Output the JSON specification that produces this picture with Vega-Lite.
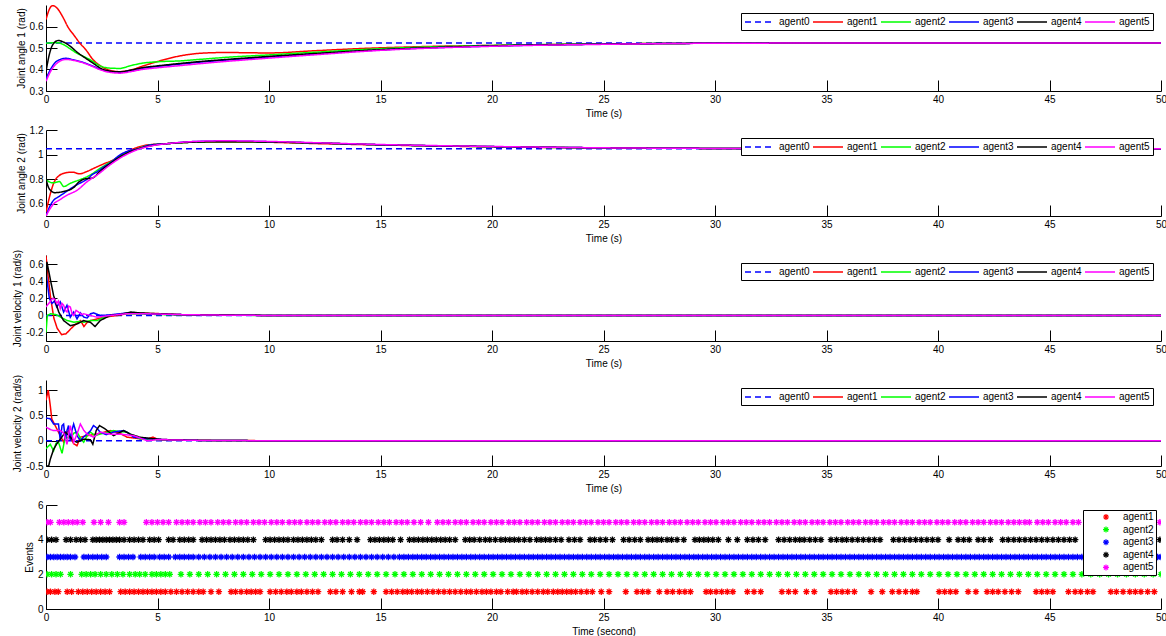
{
"$schema":"https://vega.github.io/schema/vega-lite/v6.json",
"background":"white",
"padding":{"left":12,"top":5,"right":2,"bottom":2},
"bounds":"flush",
"spacing":39,
"config":{
 "font":"Liberation Sans",
 "view":{"stroke":null},
 "axis":{"labelFont":"Liberation Sans","titleFont":"Liberation Sans","labelFontSize":10,"titleFontSize":10,"titleFontWeight":"normal","labelColor":"#000","titleColor":"#000","domainColor":"#000","tickColor":"#000","tickSize":-11,"labelPadding":14,"grid":false,"labelFlush":false,"labelOverlap":false,"domainWidth":1,"tickWidth":1},
 "axisX":{"titlePadding":4},
 "axisY":{"titlePadding":3}
},
"resolve":{"scale":{"color":"independent","strokeDash":"independent"},"legend":{"color":"independent","strokeDash":"independent"}},
"datasets":{
"a1":[
{"g":0,"t":0,"y":0.5236},{"g":0,"t":50,"y":0.5236},
{"g":1,"t":0,"y":0.632},{"g":1,"t":0.15,"y":0.68},{"g":1,"t":0.3,"y":0.697},{"g":1,"t":0.5,"y":0.685},{"g":1,"t":0.75,"y":0.645},{"g":1,"t":1.0,"y":0.595},{"g":1,"t":1.25,"y":0.56},{"g":1,"t":1.5,"y":0.525},{"g":1,"t":1.8,"y":0.49},{"g":1,"t":2.1,"y":0.447},{"g":1,"t":2.5,"y":0.413},{"g":1,"t":2.9,"y":0.395},{"g":1,"t":3.3,"y":0.39},{"g":1,"t":3.8,"y":0.398},{"g":1,"t":4.4,"y":0.418},{"g":1,"t":5.0,"y":0.437},{"g":1,"t":6.0,"y":0.463},{"g":1,"t":7.0,"y":0.476},{"g":1,"t":8.0,"y":0.479},{"g":1,"t":10,"y":0.477},{"g":1,"t":12,"y":0.487},{"g":1,"t":14,"y":0.497},{"g":1,"t":16,"y":0.504},{"g":1,"t":18,"y":0.509},{"g":1,"t":20,"y":0.512},{"g":1,"t":25,"y":0.519},{"g":1,"t":30,"y":0.522},{"g":1,"t":40,"y":0.5236},{"g":1,"t":50,"y":0.5236},
{"g":2,"t":0,"y":0.522},{"g":2,"t":0.5,"y":0.525},{"g":2,"t":0.8,"y":0.515},{"g":2,"t":1.1,"y":0.495},{"g":2,"t":1.4,"y":0.475},{"g":2,"t":1.7,"y":0.46},{"g":2,"t":2.0,"y":0.444},{"g":2,"t":2.4,"y":0.418},{"g":2,"t":2.8,"y":0.407},{"g":2,"t":3.3,"y":0.405},{"g":2,"t":3.8,"y":0.418},{"g":2,"t":4.3,"y":0.429},{"g":2,"t":5.0,"y":0.436},{"g":2,"t":6.0,"y":0.44},{"g":2,"t":7.0,"y":0.448},{"g":2,"t":8.0,"y":0.456},{"g":2,"t":10,"y":0.468},{"g":2,"t":12,"y":0.48},{"g":2,"t":15,"y":0.497},{"g":2,"t":20,"y":0.512},{"g":2,"t":25,"y":0.519},{"g":2,"t":30,"y":0.522},{"g":2,"t":40,"y":0.5236},{"g":2,"t":50,"y":0.5236},
{"g":3,"t":0,"y":0.356},{"g":3,"t":0.2,"y":0.4},{"g":3,"t":0.5,"y":0.44},{"g":3,"t":0.9,"y":0.452},{"g":3,"t":1.2,"y":0.446},{"g":3,"t":1.6,"y":0.435},{"g":3,"t":2.0,"y":0.42},{"g":3,"t":2.4,"y":0.403},{"g":3,"t":2.8,"y":0.392},{"g":3,"t":3.3,"y":0.388},{"g":3,"t":3.8,"y":0.395},{"g":3,"t":4.3,"y":0.405},{"g":3,"t":5.0,"y":0.414},{"g":3,"t":6.0,"y":0.425},{"g":3,"t":7.0,"y":0.435},{"g":3,"t":8.0,"y":0.443},{"g":3,"t":10,"y":0.458},{"g":3,"t":12,"y":0.472},{"g":3,"t":15,"y":0.491},{"g":3,"t":20,"y":0.509},{"g":3,"t":25,"y":0.518},{"g":3,"t":30,"y":0.522},{"g":3,"t":40,"y":0.5236},{"g":3,"t":50,"y":0.5236},
{"g":4,"t":0,"y":0.39},{"g":4,"t":0.15,"y":0.47},{"g":4,"t":0.3,"y":0.515},{"g":4,"t":0.55,"y":0.535},{"g":4,"t":0.8,"y":0.527},{"g":4,"t":1.1,"y":0.507},{"g":4,"t":1.4,"y":0.48},{"g":4,"t":1.7,"y":0.458},{"g":4,"t":2.1,"y":0.43},{"g":4,"t":2.5,"y":0.403},{"g":4,"t":2.9,"y":0.392},{"g":4,"t":3.3,"y":0.389},{"g":4,"t":3.8,"y":0.397},{"g":4,"t":4.3,"y":0.408},{"g":4,"t":5.0,"y":0.417},{"g":4,"t":6.0,"y":0.428},{"g":4,"t":7.0,"y":0.438},{"g":4,"t":8.0,"y":0.446},{"g":4,"t":10,"y":0.461},{"g":4,"t":12,"y":0.474},{"g":4,"t":15,"y":0.492},{"g":4,"t":20,"y":0.51},{"g":4,"t":25,"y":0.518},{"g":4,"t":30,"y":0.522},{"g":4,"t":40,"y":0.5236},{"g":4,"t":50,"y":0.5236},
{"g":5,"t":0,"y":0.345},{"g":5,"t":0.2,"y":0.39},{"g":5,"t":0.5,"y":0.43},{"g":5,"t":0.9,"y":0.447},{"g":5,"t":1.2,"y":0.443},{"g":5,"t":1.6,"y":0.433},{"g":5,"t":2.0,"y":0.418},{"g":5,"t":2.4,"y":0.4},{"g":5,"t":2.8,"y":0.388},{"g":5,"t":3.3,"y":0.383},{"g":5,"t":3.8,"y":0.39},{"g":5,"t":4.3,"y":0.4},{"g":5,"t":5.0,"y":0.408},{"g":5,"t":6.0,"y":0.418},{"g":5,"t":7.0,"y":0.428},{"g":5,"t":8.0,"y":0.437},{"g":5,"t":10,"y":0.453},{"g":5,"t":12,"y":0.468},{"g":5,"t":15,"y":0.489},{"g":5,"t":20,"y":0.508},{"g":5,"t":25,"y":0.517},{"g":5,"t":30,"y":0.522},{"g":5,"t":40,"y":0.5236},{"g":5,"t":50,"y":0.5236}
],
"a2":[
{"g":0,"t":0,"y":1.0472},{"g":0,"t":50,"y":1.0472},
{"g":1,"t":0,"y":0.53},{"g":1,"t":0.15,"y":0.65},{"g":1,"t":0.35,"y":0.77},{"g":1,"t":0.6,"y":0.83},{"g":1,"t":0.9,"y":0.852},{"g":1,"t":1.2,"y":0.857},{"g":1,"t":1.5,"y":0.843},{"g":1,"t":1.8,"y":0.86},{"g":1,"t":2.2,"y":0.893},{"g":1,"t":2.6,"y":0.925},{"g":1,"t":3.0,"y":0.955},{"g":1,"t":3.4,"y":1.0},{"g":1,"t":3.9,"y":1.045},{"g":1,"t":4.5,"y":1.077},{"g":1,"t":5.5,"y":1.09},{"g":1,"t":6.5,"y":1.1},{"g":1,"t":8,"y":1.103},{"g":1,"t":10,"y":1.1},{"g":1,"t":12,"y":1.09},{"g":1,"t":15,"y":1.078},{"g":1,"t":20,"y":1.063},{"g":1,"t":25,"y":1.054},{"g":1,"t":30,"y":1.05},{"g":1,"t":40,"y":1.047},{"g":1,"t":50,"y":1.047},
{"g":2,"t":0,"y":0.794},{"g":2,"t":0.3,"y":0.77},{"g":2,"t":0.6,"y":0.78},{"g":2,"t":0.8,"y":0.74},{"g":2,"t":1.1,"y":0.767},{"g":2,"t":1.5,"y":0.794},{"g":2,"t":2.0,"y":0.835},{"g":2,"t":2.4,"y":0.885},{"g":2,"t":2.9,"y":0.94},{"g":2,"t":3.4,"y":0.995},{"g":2,"t":4.0,"y":1.04},{"g":2,"t":4.6,"y":1.075},{"g":2,"t":5.5,"y":1.09},{"g":2,"t":6.5,"y":1.1},{"g":2,"t":8,"y":1.105},{"g":2,"t":10,"y":1.102},{"g":2,"t":12,"y":1.095},{"g":2,"t":15,"y":1.08},{"g":2,"t":20,"y":1.064},{"g":2,"t":25,"y":1.054},{"g":2,"t":30,"y":1.05},{"g":2,"t":40,"y":1.047},{"g":2,"t":50,"y":1.047},
{"g":3,"t":0,"y":0.5},{"g":3,"t":0.15,"y":0.57},{"g":3,"t":0.35,"y":0.63},{"g":3,"t":0.55,"y":0.655},{"g":3,"t":0.8,"y":0.685},{"g":3,"t":1.0,"y":0.71},{"g":3,"t":1.25,"y":0.74},{"g":3,"t":1.5,"y":0.765},{"g":3,"t":1.85,"y":0.8},{"g":3,"t":2.1,"y":0.84},{"g":3,"t":2.3,"y":0.86},{"g":3,"t":2.6,"y":0.9},{"g":3,"t":2.9,"y":0.935},{"g":3,"t":3.3,"y":0.995},{"g":3,"t":3.7,"y":1.03},{"g":3,"t":4.1,"y":1.045},{"g":3,"t":4.6,"y":1.075},{"g":3,"t":5.5,"y":1.09},{"g":3,"t":6.5,"y":1.105},{"g":3,"t":8,"y":1.11},{"g":3,"t":10,"y":1.105},{"g":3,"t":12,"y":1.095},{"g":3,"t":15,"y":1.08},{"g":3,"t":20,"y":1.065},{"g":3,"t":25,"y":1.055},{"g":3,"t":30,"y":1.05},{"g":3,"t":40,"y":1.047},{"g":3,"t":50,"y":1.047},
{"g":4,"t":0,"y":0.8},{"g":4,"t":0.15,"y":0.72},{"g":4,"t":0.4,"y":0.69},{"g":4,"t":0.8,"y":0.7},{"g":4,"t":1.2,"y":0.726},{"g":4,"t":1.5,"y":0.78},{"g":4,"t":1.7,"y":0.8},{"g":4,"t":2.1,"y":0.81},{"g":4,"t":2.4,"y":0.86},{"g":4,"t":2.9,"y":0.93},{"g":4,"t":3.5,"y":1.0},{"g":4,"t":4.2,"y":1.05},{"g":4,"t":4.8,"y":1.075},{"g":4,"t":5.5,"y":1.09},{"g":4,"t":6.5,"y":1.1},{"g":4,"t":8,"y":1.105},{"g":4,"t":10,"y":1.102},{"g":4,"t":12,"y":1.095},{"g":4,"t":15,"y":1.08},{"g":4,"t":20,"y":1.065},{"g":4,"t":25,"y":1.055},{"g":4,"t":30,"y":1.05},{"g":4,"t":40,"y":1.047},{"g":4,"t":50,"y":1.047},
{"g":5,"t":0,"y":0.5},{"g":5,"t":0.15,"y":0.55},{"g":5,"t":0.35,"y":0.6},{"g":5,"t":0.6,"y":0.63},{"g":5,"t":0.95,"y":0.67},{"g":5,"t":1.4,"y":0.71},{"g":5,"t":1.85,"y":0.78},{"g":5,"t":2.3,"y":0.835},{"g":5,"t":2.9,"y":0.92},{"g":5,"t":3.5,"y":0.99},{"g":5,"t":4.1,"y":1.04},{"g":5,"t":4.7,"y":1.07},{"g":5,"t":5.5,"y":1.09},{"g":5,"t":6.5,"y":1.105},{"g":5,"t":8,"y":1.112},{"g":5,"t":10,"y":1.107},{"g":5,"t":12,"y":1.097},{"g":5,"t":15,"y":1.082},{"g":5,"t":20,"y":1.066},{"g":5,"t":25,"y":1.055},{"g":5,"t":30,"y":1.05},{"g":5,"t":40,"y":1.047},{"g":5,"t":50,"y":1.047}
],
"a3":[
{"g":0,"t":0,"y":0},{"g":0,"t":50,"y":0},
{"g":1,"t":0,"y":0.7},{"g":1,"t":0.1,"y":0.45},{"g":1,"t":0.2,"y":0.22},{"g":1,"t":0.35,"y":-0.03},{"g":1,"t":0.5,"y":-0.15},{"g":1,"t":0.7,"y":-0.225},{"g":1,"t":0.9,"y":-0.215},{"g":1,"t":1.1,"y":-0.16},{"g":1,"t":1.3,"y":-0.11},{"g":1,"t":1.55,"y":-0.06},{"g":1,"t":1.7,"y":-0.13},{"g":1,"t":1.85,"y":-0.08},{"g":1,"t":2.0,"y":-0.06},{"g":1,"t":2.3,"y":-0.04},{"g":1,"t":2.6,"y":-0.02},{"g":1,"t":3.2,"y":0},{"g":1,"t":3.8,"y":0.03},{"g":1,"t":4.5,"y":0.025},{"g":1,"t":5.3,"y":0.02},{"g":1,"t":6.0,"y":0.01},{"g":1,"t":7,"y":0.005},{"g":1,"t":10,"y":0},{"g":1,"t":50,"y":0},
{"g":2,"t":0,"y":-0.2},{"g":2,"t":0.06,"y":0},{"g":2,"t":0.2,"y":0.02},{"g":2,"t":0.45,"y":0.01},{"g":2,"t":0.65,"y":-0.02},{"g":2,"t":0.95,"y":-0.06},{"g":2,"t":1.25,"y":-0.08},{"g":2,"t":1.5,"y":-0.07},{"g":2,"t":1.7,"y":-0.08},{"g":2,"t":2.0,"y":-0.06},{"g":2,"t":2.3,"y":-0.06},{"g":2,"t":2.6,"y":-0.02},{"g":2,"t":2.9,"y":0},{"g":2,"t":3.5,"y":0.02},{"g":2,"t":4.5,"y":0.015},{"g":2,"t":6,"y":0.005},{"g":2,"t":10,"y":0},{"g":2,"t":50,"y":0},
{"g":3,"t":0,"y":0.51},{"g":3,"t":0.1,"y":0.3},{"g":3,"t":0.15,"y":0.2},{"g":3,"t":0.27,"y":0.14},{"g":3,"t":0.38,"y":0.17},{"g":3,"t":0.48,"y":0.1},{"g":3,"t":0.64,"y":0.16},{"g":3,"t":0.79,"y":0.04},{"g":3,"t":0.94,"y":0.12},{"g":3,"t":1.09,"y":-0.02},{"g":3,"t":1.24,"y":0.04},{"g":3,"t":1.39,"y":-0.04},{"g":3,"t":1.54,"y":0.03},{"g":3,"t":1.7,"y":-0.02},{"g":3,"t":1.84,"y":-0.03},{"g":3,"t":2.0,"y":0.02},{"g":3,"t":2.13,"y":0.03},{"g":3,"t":2.43,"y":0},{"g":3,"t":2.8,"y":0.005},{"g":3,"t":3.3,"y":0.02},{"g":3,"t":3.7,"y":0.03},{"g":3,"t":5,"y":0.015},{"g":3,"t":7,"y":0.005},{"g":3,"t":10,"y":0},{"g":3,"t":50,"y":0},
{"g":4,"t":0,"y":0.3},{"g":4,"t":0.04,"y":0.63},{"g":4,"t":0.19,"y":0.43},{"g":4,"t":0.34,"y":0.235},{"g":4,"t":0.57,"y":0.04},{"g":4,"t":0.79,"y":-0.06},{"g":4,"t":1.09,"y":-0.12},{"g":4,"t":1.39,"y":-0.1},{"g":4,"t":1.69,"y":-0.06},{"g":4,"t":1.99,"y":-0.08},{"g":4,"t":2.2,"y":-0.13},{"g":4,"t":2.43,"y":-0.06},{"g":4,"t":2.88,"y":0},{"g":4,"t":3.3,"y":0.01},{"g":4,"t":3.8,"y":0.04},{"g":4,"t":4.2,"y":0.03},{"g":4,"t":5,"y":0.02},{"g":4,"t":6,"y":0.01},{"g":4,"t":8,"y":0.005},{"g":4,"t":10,"y":0},{"g":4,"t":50,"y":0},
{"g":5,"t":0,"y":0.1},{"g":5,"t":0.15,"y":0.15},{"g":5,"t":0.3,"y":0.2},{"g":5,"t":0.4,"y":0.19},{"g":5,"t":0.48,"y":0.14},{"g":5,"t":0.56,"y":0.17},{"g":5,"t":0.64,"y":0.08},{"g":5,"t":0.72,"y":0.14},{"g":5,"t":0.79,"y":0.12},{"g":5,"t":0.87,"y":0.06},{"g":5,"t":0.94,"y":0.04},{"g":5,"t":1.02,"y":0.11},{"g":5,"t":1.09,"y":0.1},{"g":5,"t":1.17,"y":0.02},{"g":5,"t":1.24,"y":0},{"g":5,"t":1.35,"y":0.06},{"g":5,"t":1.46,"y":0.04},{"g":5,"t":1.6,"y":0.01},{"g":5,"t":1.69,"y":0.02},{"g":5,"t":1.99,"y":0},{"g":5,"t":2.28,"y":-0.02},{"g":5,"t":2.6,"y":-0.01},{"g":5,"t":2.9,"y":0},{"g":5,"t":3.6,"y":0.02},{"g":5,"t":4.5,"y":0.02},{"g":5,"t":6,"y":0.01},{"g":5,"t":8,"y":0.003},{"g":5,"t":10,"y":0},{"g":5,"t":50,"y":0}
],
"a4":[
{"g":0,"t":0,"y":0},{"g":0,"t":50,"y":0},
{"g":1,"t":0,"y":0.8},{"g":1,"t":0.1,"y":1.0},{"g":1,"t":0.19,"y":0.7},{"g":1,"t":0.26,"y":0.43},{"g":1,"t":0.41,"y":0.3},{"g":1,"t":0.64,"y":0.1},{"g":1,"t":0.79,"y":-0.03},{"g":1,"t":0.9,"y":0.15},{"g":1,"t":1.01,"y":0.2},{"g":1,"t":1.12,"y":0.05},{"g":1,"t":1.24,"y":-0.06},{"g":1,"t":1.39,"y":-0.1},{"g":1,"t":1.54,"y":0.07},{"g":1,"t":1.84,"y":0.1},{"g":1,"t":2.28,"y":0.13},{"g":1,"t":2.88,"y":0.2},{"g":1,"t":3.3,"y":0.15},{"g":1,"t":3.63,"y":0.07},{"g":1,"t":4.2,"y":0.04},{"g":1,"t":4.5,"y":0.03},{"g":1,"t":4.8,"y":0.07},{"g":1,"t":5.0,"y":0.03},{"g":1,"t":6,"y":0.01},{"g":1,"t":10,"y":0},{"g":1,"t":50,"y":0},
{"g":2,"t":0,"y":-0.16},{"g":2,"t":0.19,"y":-0.07},{"g":2,"t":0.34,"y":-0.2},{"g":2,"t":0.45,"y":-0.05},{"g":2,"t":0.56,"y":-0.03},{"g":2,"t":0.72,"y":-0.25},{"g":2,"t":0.83,"y":0},{"g":2,"t":0.94,"y":0.07},{"g":2,"t":1.1,"y":0.05},{"g":2,"t":1.25,"y":0.15},{"g":2,"t":1.39,"y":0.17},{"g":2,"t":1.55,"y":0.05},{"g":2,"t":1.69,"y":-0.03},{"g":2,"t":1.85,"y":0.1},{"g":2,"t":1.99,"y":0.17},{"g":2,"t":2.2,"y":0.1},{"g":2,"t":2.43,"y":0.13},{"g":2,"t":2.7,"y":0.16},{"g":2,"t":3.03,"y":0.2},{"g":2,"t":3.3,"y":0.18},{"g":2,"t":3.63,"y":0.17},{"g":2,"t":3.9,"y":0.1},{"g":2,"t":4.23,"y":0.03},{"g":2,"t":5,"y":0.02},{"g":2,"t":7,"y":0.005},{"g":2,"t":10,"y":0},{"g":2,"t":50,"y":0},
{"g":3,"t":0,"y":0.45},{"g":3,"t":0.2,"y":0.43},{"g":3,"t":0.34,"y":0.33},{"g":3,"t":0.56,"y":0.33},{"g":3,"t":0.64,"y":0},{"g":3,"t":0.72,"y":0.3},{"g":3,"t":0.79,"y":0.33},{"g":3,"t":0.87,"y":0},{"g":3,"t":0.94,"y":0.2},{"g":3,"t":1.01,"y":0.3},{"g":3,"t":1.09,"y":0},{"g":3,"t":1.16,"y":0.2},{"g":3,"t":1.24,"y":0.33},{"g":3,"t":1.39,"y":0.1},{"g":3,"t":1.54,"y":0},{"g":3,"t":1.7,"y":0.08},{"g":3,"t":1.84,"y":0.13},{"g":3,"t":2.0,"y":0.2},{"g":3,"t":2.13,"y":0.3},{"g":3,"t":2.28,"y":0.25},{"g":3,"t":2.43,"y":0.17},{"g":3,"t":2.7,"y":0.12},{"g":3,"t":3.03,"y":0.17},{"g":3,"t":3.3,"y":0.19},{"g":3,"t":3.48,"y":0.2},{"g":3,"t":3.7,"y":0.15},{"g":3,"t":3.93,"y":0.07},{"g":3,"t":4.5,"y":0.04},{"g":3,"t":5.5,"y":0.02},{"g":3,"t":7,"y":0.005},{"g":3,"t":10,"y":0},{"g":3,"t":50,"y":0},
{"g":4,"t":0,"y":-0.5},{"g":4,"t":0.12,"y":-0.5},{"g":4,"t":0.19,"y":-0.37},{"g":4,"t":0.34,"y":-0.17},{"g":4,"t":0.5,"y":-0.05},{"g":4,"t":0.64,"y":0.03},{"g":4,"t":0.87,"y":0.17},{"g":4,"t":1.09,"y":0.07},{"g":4,"t":1.24,"y":0},{"g":4,"t":1.39,"y":-0.03},{"g":4,"t":1.69,"y":0.03},{"g":4,"t":1.99,"y":0.02},{"g":4,"t":2.1,"y":-0.07},{"g":4,"t":2.25,"y":0.2},{"g":4,"t":2.4,"y":0.3},{"g":4,"t":2.66,"y":0.23},{"g":4,"t":3.03,"y":0.1},{"g":4,"t":3.48,"y":0.2},{"g":4,"t":3.78,"y":0.13},{"g":4,"t":4.2,"y":0.07},{"g":4,"t":5.2,"y":0.02},{"g":4,"t":7,"y":0.005},{"g":4,"t":10,"y":0},{"g":4,"t":50,"y":0},
{"g":5,"t":0,"y":0.27},{"g":5,"t":0.2,"y":0.22},{"g":5,"t":0.34,"y":0.2},{"g":5,"t":0.64,"y":0.2},{"g":5,"t":0.8,"y":0.15},{"g":5,"t":0.94,"y":-0.07},{"g":5,"t":1.09,"y":0.3},{"g":5,"t":1.24,"y":-0.03},{"g":5,"t":1.39,"y":0.13},{"g":5,"t":1.54,"y":0.33},{"g":5,"t":1.7,"y":0.2},{"g":5,"t":1.84,"y":0.13},{"g":5,"t":2.13,"y":0.07},{"g":5,"t":2.43,"y":0.17},{"g":5,"t":2.88,"y":0.13},{"g":5,"t":3.33,"y":0.13},{"g":5,"t":3.93,"y":0.1},{"g":5,"t":4.53,"y":0},{"g":5,"t":5,"y":0.02},{"g":5,"t":7,"y":0.005},{"g":5,"t":10,"y":0},{"g":5,"t":50,"y":0}
],
"ev":[
{"e":1,"t":0.05},{"e":1,"t":0.2},{"e":1,"t":0.4},{"e":1,"t":0.55},{"e":1,"t":0.95},{"e":1,"t":1.15},{"e":1,"t":1.45},{"e":1,"t":1.65},{"e":1,"t":1.85},{"e":1,"t":2.05},{"e":1,"t":2.25},{"e":1,"t":2.45},{"e":1,"t":2.65},{"e":1,"t":2.85},{"e":1,"t":3.35},{"e":1,"t":3.55},{"e":1,"t":3.75},{"e":1,"t":3.95},{"e":1,"t":4.15},{"e":1,"t":4.35},{"e":1,"t":4.55},{"e":1,"t":4.75},{"e":1,"t":4.95},{"e":1,"t":5.15},{"e":1,"t":5.35},{"e":1,"t":5.6},{"e":1,"t":5.85},{"e":1,"t":6.1},{"e":1,"t":6.35},{"e":1,"t":6.6},{"e":1,"t":6.85},{"e":1,"t":7.05},{"e":1,"t":7.4},{"e":1,"t":7.75},{"e":1,"t":8.3},{"e":1,"t":8.5},{"e":1,"t":8.75},{"e":1,"t":9.0},{"e":1,"t":9.2},{"e":1,"t":9.4},{"e":1,"t":9.6},{"e":1,"t":10.05},{"e":1,"t":10.3},{"e":1,"t":10.55},{"e":1,"t":10.8},{"e":1,"t":11.0},{"e":1,"t":11.25},{"e":1,"t":11.45},{"e":1,"t":11.7},{"e":1,"t":11.95},{"e":1,"t":12.2},{"e":1,"t":12.75},{"e":1,"t":13.0},{"e":1,"t":13.3},{"e":1,"t":13.7},{"e":1,"t":14.05},{"e":1,"t":14.2},{"e":1,"t":14.7},{"e":1,"t":15.25},{"e":1,"t":15.5},{"e":1,"t":15.75},{"e":1,"t":16.0},{"e":1,"t":16.2},{"e":1,"t":16.4},{"e":1,"t":16.65},{"e":1,"t":16.85},{"e":1,"t":17.1},{"e":1,"t":17.35},{"e":1,"t":17.6},{"e":1,"t":17.85},{"e":1,"t":18.1},{"e":1,"t":18.35},{"e":1,"t":18.6},{"e":1,"t":18.85},{"e":1,"t":19.05},{"e":1,"t":19.3},{"e":1,"t":19.55},{"e":1,"t":19.75},{"e":1,"t":19.95},{"e":1,"t":20.2},{"e":1,"t":20.4},{"e":1,"t":20.7},{"e":1,"t":20.95},{"e":1,"t":21.1},{"e":1,"t":21.35},{"e":1,"t":21.55},{"e":1,"t":21.8},{"e":1,"t":22.05},{"e":1,"t":22.3},{"e":1,"t":22.5},{"e":1,"t":22.75},{"e":1,"t":22.95},{"e":1,"t":23.15},{"e":1,"t":23.35},{"e":1,"t":23.55},{"e":1,"t":23.75},{"e":1,"t":24.0},{"e":1,"t":24.25},{"e":1,"t":24.5},{"e":1,"t":24.9},{"e":1,"t":25.25},{"e":1,"t":26.0},{"e":1,"t":26.5},{"e":1,"t":26.75},{"e":1,"t":27.0},{"e":1,"t":27.5},{"e":1,"t":27.85},{"e":1,"t":28.1},{"e":1,"t":28.4},{"e":1,"t":28.65},{"e":1,"t":28.9},{"e":1,"t":29.6},{"e":1,"t":29.8},{"e":1,"t":30.05},{"e":1,"t":30.3},{"e":1,"t":30.55},{"e":1,"t":30.8},{"e":1,"t":31.45},{"e":1,"t":31.75},{"e":1,"t":32.05},{"e":1,"t":33.0},{"e":1,"t":33.3},{"e":1,"t":33.6},{"e":1,"t":34.1},{"e":1,"t":34.45},{"e":1,"t":35.2},{"e":1,"t":35.45},{"e":1,"t":35.7},{"e":1,"t":35.95},{"e":1,"t":36.25},{"e":1,"t":37.0},{"e":1,"t":37.5},{"e":1,"t":37.95},{"e":1,"t":38.25},{"e":1,"t":38.55},{"e":1,"t":38.85},{"e":1,"t":39.05},{"e":1,"t":40.05},{"e":1,"t":40.3},{"e":1,"t":40.55},{"e":1,"t":40.8},{"e":1,"t":41.35},{"e":1,"t":41.7},{"e":1,"t":42.2},{"e":1,"t":42.45},{"e":1,"t":42.7},{"e":1,"t":43.0},{"e":1,"t":43.3},{"e":1,"t":43.6},{"e":1,"t":44.4},{"e":1,"t":44.65},{"e":1,"t":44.9},{"e":1,"t":45.15},{"e":1,"t":45.85},{"e":1,"t":46.15},{"e":1,"t":46.4},{"e":1,"t":46.7},{"e":1,"t":46.95},{"e":1,"t":47.75},{"e":1,"t":48.0},{"e":1,"t":48.3},{"e":1,"t":48.6},{"e":1,"t":48.85},{"e":1,"t":49.1},{"e":1,"t":49.4},{"e":1,"t":49.7},
{"e":2,"t":0.05},{"e":2,"t":0.25},{"e":2,"t":0.45},{"e":2,"t":0.65},{"e":2,"t":1.1},{"e":2,"t":1.6},{"e":2,"t":1.8},{"e":2,"t":2.0},{"e":2,"t":2.2},{"e":2,"t":2.45},{"e":2,"t":2.7},{"e":2,"t":2.95},{"e":2,"t":3.2},{"e":2,"t":3.45},{"e":2,"t":3.75},{"e":2,"t":4.0},{"e":2,"t":4.2},{"e":2,"t":4.45},{"e":2,"t":4.75},{"e":2,"t":4.95},{"e":2,"t":5.15},{"e":2,"t":5.35},{"e":2,"t":5.55},{"e":2,"t":6.05},{"e":2,"t":6.45},{"e":2,"t":6.85},{"e":2,"t":7.25},{"e":2,"t":7.65},{"e":2,"t":8.05},{"e":2,"t":8.45},{"e":2,"t":8.85},{"e":2,"t":9.25},{"e":2,"t":9.65},{"e":2,"t":10.05},{"e":2,"t":10.45},{"e":2,"t":10.85},{"e":2,"t":11.25},{"e":2,"t":11.65},{"e":2,"t":12.05},{"e":2,"t":12.45},{"e":2,"t":12.85},{"e":2,"t":13.25},{"e":2,"t":13.65},{"e":2,"t":14.05},{"e":2,"t":14.45},{"e":2,"t":14.85},{"e":2,"t":15.25},{"e":2,"t":15.65},{"e":2,"t":16.05},{"e":2,"t":16.45},{"e":2,"t":16.85},{"e":2,"t":17.25},{"e":2,"t":17.65},{"e":2,"t":18.05},{"e":2,"t":18.45},{"e":2,"t":18.85},{"e":2,"t":19.25},{"e":2,"t":19.65},{"e":2,"t":20.05},{"e":2,"t":20.45},{"e":2,"t":20.85},{"e":2,"t":21.25},{"e":2,"t":21.65},{"e":2,"t":22.05},{"e":2,"t":22.45},{"e":2,"t":22.85},{"e":2,"t":23.25},{"e":2,"t":23.65},{"e":2,"t":24.05},{"e":2,"t":24.45},{"e":2,"t":24.85},{"e":2,"t":25.25},{"e":2,"t":25.65},{"e":2,"t":26.05},{"e":2,"t":26.45},{"e":2,"t":26.85},{"e":2,"t":27.25},{"e":2,"t":27.65},{"e":2,"t":28.05},{"e":2,"t":28.45},{"e":2,"t":28.85},{"e":2,"t":29.25},{"e":2,"t":29.65},{"e":2,"t":30.05},{"e":2,"t":30.45},{"e":2,"t":30.85},{"e":2,"t":31.25},{"e":2,"t":31.65},{"e":2,"t":32.05},{"e":2,"t":32.45},{"e":2,"t":32.85},{"e":2,"t":33.25},{"e":2,"t":33.65},{"e":2,"t":34.05},{"e":2,"t":34.45},{"e":2,"t":34.85},{"e":2,"t":35.25},{"e":2,"t":35.65},{"e":2,"t":36.05},{"e":2,"t":36.45},{"e":2,"t":36.85},{"e":2,"t":37.25},{"e":2,"t":37.65},{"e":2,"t":38.05},{"e":2,"t":38.45},{"e":2,"t":38.85},{"e":2,"t":39.25},{"e":2,"t":39.65},{"e":2,"t":40.05},{"e":2,"t":40.45},{"e":2,"t":40.85},{"e":2,"t":41.25},{"e":2,"t":41.65},{"e":2,"t":42.05},{"e":2,"t":42.45},{"e":2,"t":42.85},{"e":2,"t":43.25},{"e":2,"t":43.65},{"e":2,"t":44.05},{"e":2,"t":44.45},{"e":2,"t":44.85},{"e":2,"t":45.25},{"e":2,"t":45.65},{"e":2,"t":46.05},{"e":2,"t":46.45},{"e":2,"t":46.85},{"e":2,"t":47.25},{"e":2,"t":47.65},{"e":2,"t":48.05},{"e":2,"t":48.45},{"e":2,"t":48.85},{"e":2,"t":49.25},{"e":2,"t":49.65},{"e":2,"t":50.0},
{"e":3,"t":0.05},{"e":3,"t":0.2},{"e":3,"t":0.35},{"e":3,"t":0.5},{"e":3,"t":0.65},{"e":3,"t":0.8},{"e":3,"t":0.95},{"e":3,"t":1.1},{"e":3,"t":1.3},{"e":3,"t":1.7},{"e":3,"t":1.9},{"e":3,"t":2.1},{"e":3,"t":2.3},{"e":3,"t":2.5},{"e":3,"t":2.7},{"e":3,"t":3.3},{"e":3,"t":3.5},{"e":3,"t":3.7},{"e":3,"t":3.9},{"e":3,"t":4.25},{"e":3,"t":4.45},{"e":3,"t":4.65},{"e":3,"t":4.85},{"e":3,"t":5.1},{"e":3,"t":5.3},{"e":3,"t":5.5},{"e":3,"t":5.8},{"e":3,"t":6.0},{"e":3,"t":6.2},{"e":3,"t":6.4},{"e":3,"t":6.6},{"e":3,"t":6.85},{"e":3,"t":7.1},{"e":3,"t":7.35},{"e":3,"t":7.6},{"e":3,"t":7.85},{"e":3,"t":8.1},{"e":3,"t":8.35},{"e":3,"t":8.6},{"e":3,"t":8.85},{"e":3,"t":9.1},{"e":3,"t":9.35},{"e":3,"t":9.6},{"e":3,"t":9.85},{"e":3,"t":10.1},{"e":3,"t":10.35},{"e":3,"t":10.6},{"e":3,"t":10.85},{"e":3,"t":11.1},{"e":3,"t":11.35},{"e":3,"t":11.6},{"e":3,"t":11.85},{"e":3,"t":12.1},{"e":3,"t":12.35},{"e":3,"t":12.6},{"e":3,"t":12.85},{"e":3,"t":13.1},{"e":3,"t":13.35},{"e":3,"t":13.6},{"e":3,"t":13.85},{"e":3,"t":14.1},{"e":3,"t":14.35},{"e":3,"t":14.6},{"e":3,"t":14.85},{"e":3,"t":15.1},{"e":3,"t":15.35},{"e":3,"t":15.6},{"e":3,"t":15.85},
{"e":3,"t":16.05},{"e":3,"t":16.25},{"e":3,"t":16.45},{"e":3,"t":16.65},{"e":3,"t":16.85},{"e":3,"t":17.05},{"e":3,"t":17.25},{"e":3,"t":17.45},{"e":3,"t":17.65},{"e":3,"t":17.85},{"e":3,"t":18.05},{"e":3,"t":18.25},{"e":3,"t":18.45},{"e":3,"t":18.65},{"e":3,"t":18.85},{"e":3,"t":19.05},{"e":3,"t":19.25},{"e":3,"t":19.45},{"e":3,"t":19.65},{"e":3,"t":19.85},{"e":3,"t":20.05},{"e":3,"t":20.25},{"e":3,"t":20.45},{"e":3,"t":20.65},{"e":3,"t":20.85},{"e":3,"t":21.05},{"e":3,"t":21.25},{"e":3,"t":21.45},{"e":3,"t":21.65},{"e":3,"t":21.85},{"e":3,"t":22.05},{"e":3,"t":22.25},{"e":3,"t":22.45},{"e":3,"t":22.65},{"e":3,"t":22.85},{"e":3,"t":23.05},{"e":3,"t":23.25},{"e":3,"t":23.45},{"e":3,"t":23.65},{"e":3,"t":23.85},{"e":3,"t":24.05},{"e":3,"t":24.25},{"e":3,"t":24.45},{"e":3,"t":24.65},{"e":3,"t":24.85},{"e":3,"t":25.05},{"e":3,"t":25.25},{"e":3,"t":25.45},{"e":3,"t":25.65},{"e":3,"t":25.85},{"e":3,"t":26.05},{"e":3,"t":26.25},{"e":3,"t":26.45},{"e":3,"t":26.65},{"e":3,"t":26.85},{"e":3,"t":27.05},{"e":3,"t":27.25},{"e":3,"t":27.45},{"e":3,"t":27.65},{"e":3,"t":27.85},{"e":3,"t":28.05},{"e":3,"t":28.25},{"e":3,"t":28.45},{"e":3,"t":28.65},{"e":3,"t":28.85},{"e":3,"t":29.05},{"e":3,"t":29.25},{"e":3,"t":29.45},{"e":3,"t":29.65},{"e":3,"t":29.85},{"e":3,"t":30.05},{"e":3,"t":30.25},{"e":3,"t":30.45},{"e":3,"t":30.65},{"e":3,"t":30.85},{"e":3,"t":31.05},{"e":3,"t":31.25},{"e":3,"t":31.45},{"e":3,"t":31.65},{"e":3,"t":31.85},{"e":3,"t":32.05},{"e":3,"t":32.25},{"e":3,"t":32.45},{"e":3,"t":32.65},{"e":3,"t":32.85},{"e":3,"t":33.05},{"e":3,"t":33.25},{"e":3,"t":33.45},{"e":3,"t":33.65},{"e":3,"t":33.85},{"e":3,"t":34.05},{"e":3,"t":34.25},{"e":3,"t":34.45},{"e":3,"t":34.65},{"e":3,"t":34.85},{"e":3,"t":35.05},{"e":3,"t":35.25},{"e":3,"t":35.45},{"e":3,"t":35.65},{"e":3,"t":35.85},{"e":3,"t":36.05},{"e":3,"t":36.25},{"e":3,"t":36.45},{"e":3,"t":36.65},{"e":3,"t":36.85},{"e":3,"t":37.05},{"e":3,"t":37.25},{"e":3,"t":37.45},{"e":3,"t":37.65},{"e":3,"t":37.85},{"e":3,"t":38.05},{"e":3,"t":38.25},{"e":3,"t":38.45},{"e":3,"t":38.65},{"e":3,"t":38.85},{"e":3,"t":39.05},{"e":3,"t":39.25},{"e":3,"t":39.45},{"e":3,"t":39.65},{"e":3,"t":39.85},{"e":3,"t":40.05},{"e":3,"t":40.25},{"e":3,"t":40.45},{"e":3,"t":40.65},{"e":3,"t":40.85},{"e":3,"t":41.05},{"e":3,"t":41.25},{"e":3,"t":41.45},{"e":3,"t":41.65},{"e":3,"t":41.85},{"e":3,"t":42.05},{"e":3,"t":42.25},{"e":3,"t":42.45},{"e":3,"t":42.65},{"e":3,"t":42.85},{"e":3,"t":43.05},{"e":3,"t":43.25},{"e":3,"t":43.45},{"e":3,"t":43.65},{"e":3,"t":43.85},{"e":3,"t":44.05},{"e":3,"t":44.25},{"e":3,"t":44.45},{"e":3,"t":44.65},{"e":3,"t":44.85},{"e":3,"t":45.05},{"e":3,"t":45.25},{"e":3,"t":45.45},{"e":3,"t":45.65},{"e":3,"t":45.85},{"e":3,"t":46.05},{"e":3,"t":46.25},{"e":3,"t":46.45},{"e":3,"t":46.65},{"e":3,"t":46.85},{"e":3,"t":47.05},{"e":3,"t":47.25},{"e":3,"t":47.45},{"e":3,"t":47.65},{"e":3,"t":47.85},{"e":3,"t":48.05},{"e":3,"t":48.25},{"e":3,"t":48.45},{"e":3,"t":48.65},{"e":3,"t":48.85},{"e":3,"t":49.05},{"e":3,"t":49.25},{"e":3,"t":49.45},{"e":3,"t":49.65},{"e":3,"t":49.85},{"e":3,"t":50.0},
{"e":4,"t":0.05},{"e":4,"t":0.25},{"e":4,"t":0.45},{"e":4,"t":0.9},{"e":4,"t":1.1},{"e":4,"t":1.35},{"e":4,"t":1.55},{"e":4,"t":1.75},{"e":4,"t":2.1},{"e":4,"t":2.25},{"e":4,"t":2.4},{"e":4,"t":2.55},{"e":4,"t":2.7},{"e":4,"t":2.85},{"e":4,"t":3.0},{"e":4,"t":3.15},{"e":4,"t":3.3},{"e":4,"t":3.5},{"e":4,"t":3.75},{"e":4,"t":3.95},{"e":4,"t":4.15},{"e":4,"t":4.35},{"e":4,"t":4.65},{"e":4,"t":4.85},{"e":4,"t":5.05},{"e":4,"t":5.5},{"e":4,"t":5.7},{"e":4,"t":6.0},{"e":4,"t":6.2},{"e":4,"t":6.4},{"e":4,"t":6.6},{"e":4,"t":7.0},{"e":4,"t":7.2},{"e":4,"t":7.4},{"e":4,"t":7.6},{"e":4,"t":7.8},{"e":4,"t":8.0},{"e":4,"t":8.25},{"e":4,"t":8.45},{"e":4,"t":8.65},{"e":4,"t":8.85},{"e":4,"t":9.05},{"e":4,"t":9.3},{"e":4,"t":9.85},{"e":4,"t":10.05},{"e":4,"t":10.25},{"e":4,"t":10.45},{"e":4,"t":10.65},{"e":4,"t":10.85},{"e":4,"t":11.1},{"e":4,"t":11.3},{"e":4,"t":11.5},{"e":4,"t":11.7},{"e":4,"t":11.9},{"e":4,"t":12.1},{"e":4,"t":12.35},{"e":4,"t":12.85},{"e":4,"t":13.05},{"e":4,"t":13.3},{"e":4,"t":13.6},{"e":4,"t":13.95},{"e":4,"t":14.55},{"e":4,"t":14.75},{"e":4,"t":14.95},{"e":4,"t":15.15},{"e":4,"t":15.35},{"e":4,"t":15.55},{"e":4,"t":15.9},{"e":4,"t":16.3},{"e":4,"t":16.5},{"e":4,"t":16.7},{"e":4,"t":16.9},{"e":4,"t":17.1},{"e":4,"t":17.3},{"e":4,"t":17.5},{"e":4,"t":17.7},{"e":4,"t":17.9},{"e":4,"t":18.1},{"e":4,"t":18.35},{"e":4,"t":18.8},{"e":4,"t":19.0},{"e":4,"t":19.2},{"e":4,"t":19.45},{"e":4,"t":19.7},{"e":4,"t":19.9},{"e":4,"t":20.15},{"e":4,"t":20.4},{"e":4,"t":20.6},{"e":4,"t":20.8},{"e":4,"t":21.0},{"e":4,"t":21.2},{"e":4,"t":21.45},{"e":4,"t":21.7},{"e":4,"t":22.0},{"e":4,"t":22.2},{"e":4,"t":22.4},{"e":4,"t":22.6},{"e":4,"t":22.85},{"e":4,"t":23.1},{"e":4,"t":23.45},{"e":4,"t":23.7},{"e":4,"t":23.95},{"e":4,"t":24.4},{"e":4,"t":24.6},{"e":4,"t":24.85},{"e":4,"t":25.1},{"e":4,"t":25.4},{"e":4,"t":25.9},{"e":4,"t":26.15},{"e":4,"t":26.4},{"e":4,"t":26.65},{"e":4,"t":27.0},{"e":4,"t":27.2},{"e":4,"t":27.4},{"e":4,"t":27.6},{"e":4,"t":27.85},{"e":4,"t":28.05},{"e":4,"t":28.3},{"e":4,"t":28.6},{"e":4,"t":29.1},{"e":4,"t":29.3},{"e":4,"t":29.5},{"e":4,"t":29.7},{"e":4,"t":29.9},{"e":4,"t":30.15},{"e":4,"t":30.6},{"e":4,"t":31.0},{"e":4,"t":31.45},{"e":4,"t":31.7},{"e":4,"t":31.95},{"e":4,"t":32.25},{"e":4,"t":32.85},{"e":4,"t":33.1},{"e":4,"t":33.35},{"e":4,"t":33.6},{"e":4,"t":33.8},{"e":4,"t":34.0},{"e":4,"t":34.25},{"e":4,"t":34.5},{"e":4,"t":34.75},{"e":4,"t":35.2},{"e":4,"t":35.45},{"e":4,"t":35.7},{"e":4,"t":35.9},{"e":4,"t":36.15},{"e":4,"t":36.4},{"e":4,"t":36.65},{"e":4,"t":36.9},{"e":4,"t":37.15},{"e":4,"t":37.4},{"e":4,"t":38.0},{"e":4,"t":38.25},{"e":4,"t":38.5},{"e":4,"t":38.75},{"e":4,"t":39.0},{"e":4,"t":39.25},{"e":4,"t":39.5},{"e":4,"t":39.75},{"e":4,"t":40.0},{"e":4,"t":40.5},{"e":4,"t":40.9},{"e":4,"t":41.15},{"e":4,"t":41.4},{"e":4,"t":41.8},{"e":4,"t":42.05},{"e":4,"t":42.35},{"e":4,"t":42.9},{"e":4,"t":43.15},{"e":4,"t":43.4},{"e":4,"t":43.65},{"e":4,"t":43.9},{"e":4,"t":44.15},{"e":4,"t":44.4},{"e":4,"t":44.65},{"e":4,"t":44.9},{"e":4,"t":45.15},{"e":4,"t":45.4},{"e":4,"t":45.65},{"e":4,"t":45.9},{"e":4,"t":46.15},{"e":4,"t":47.0},{"e":4,"t":47.5},{"e":4,"t":48.2},{"e":4,"t":48.8},{"e":4,"t":49.4},{"e":4,"t":49.95},
{"e":5,"t":0.05},{"e":5,"t":0.2},{"e":5,"t":0.6},{"e":5,"t":0.8},{"e":5,"t":1.0},{"e":5,"t":1.2},{"e":5,"t":1.4},{"e":5,"t":1.65},{"e":5,"t":2.15},{"e":5,"t":2.45},{"e":5,"t":2.8},{"e":5,"t":3.3},{"e":5,"t":3.5},{"e":5,"t":4.5},{"e":5,"t":4.75},{"e":5,"t":5.0},{"e":5,"t":5.25},{"e":5,"t":5.5},{"e":5,"t":5.85},{"e":5,"t":6.1},{"e":5,"t":6.35},{"e":5,"t":6.6},{"e":5,"t":6.9},{"e":5,"t":7.15},{"e":5,"t":7.4},{"e":5,"t":7.7},{"e":5,"t":7.95},{"e":5,"t":8.2},{"e":5,"t":8.5},{"e":5,"t":8.75},{"e":5,"t":9.0},{"e":5,"t":9.3},{"e":5,"t":9.55},{"e":5,"t":9.8},{"e":5,"t":10.1},{"e":5,"t":10.35},{"e":5,"t":10.6},{"e":5,"t":10.9},{"e":5,"t":11.15},{"e":5,"t":11.4},{"e":5,"t":11.7},{"e":5,"t":11.95},{"e":5,"t":12.2},{"e":5,"t":12.5},{"e":5,"t":12.75},{"e":5,"t":13.0},{"e":5,"t":13.3},{"e":5,"t":13.55},{"e":5,"t":13.8},{"e":5,"t":14.1},{"e":5,"t":14.35},{"e":5,"t":14.6},{"e":5,"t":14.9},{"e":5,"t":15.15},{"e":5,"t":15.4},{"e":5,"t":15.7},{"e":5,"t":15.95},{"e":5,"t":16.2},{"e":5,"t":16.5},{"e":5,"t":16.8},{"e":5,"t":17.15},{"e":5,"t":17.55},{"e":5,"t":17.8},{"e":5,"t":18.05},{"e":5,"t":18.35},{"e":5,"t":18.6},{"e":5,"t":18.85},{"e":5,"t":19.15},{"e":5,"t":19.4},{"e":5,"t":19.65},{"e":5,"t":19.95},{"e":5,"t":20.2},{"e":5,"t":20.45},{"e":5,"t":20.75},{"e":5,"t":21.0},{"e":5,"t":21.25},{"e":5,"t":21.55},{"e":5,"t":21.8},{"e":5,"t":22.05},{"e":5,"t":22.35},{"e":5,"t":22.6},{"e":5,"t":22.85},{"e":5,"t":23.15},{"e":5,"t":23.4},{"e":5,"t":23.65},{"e":5,"t":23.95},{"e":5,"t":24.2},{"e":5,"t":24.45},{"e":5,"t":24.75},{"e":5,"t":25.0},{"e":5,"t":25.25},{"e":5,"t":25.55},{"e":5,"t":25.8},{"e":5,"t":26.05},{"e":5,"t":26.35},{"e":5,"t":26.6},{"e":5,"t":26.85},{"e":5,"t":27.15},{"e":5,"t":27.4},{"e":5,"t":27.65},{"e":5,"t":27.95},{"e":5,"t":28.2},{"e":5,"t":28.45},{"e":5,"t":28.75},{"e":5,"t":29.0},{"e":5,"t":29.25},{"e":5,"t":29.55},{"e":5,"t":29.8},{"e":5,"t":30.05},{"e":5,"t":30.35},{"e":5,"t":30.6},{"e":5,"t":30.85},{"e":5,"t":31.15},{"e":5,"t":31.4},{"e":5,"t":31.65},{"e":5,"t":31.95},{"e":5,"t":32.2},{"e":5,"t":32.45},{"e":5,"t":32.75},{"e":5,"t":33.0},{"e":5,"t":33.25},{"e":5,"t":33.55},{"e":5,"t":33.8},{"e":5,"t":34.05},{"e":5,"t":34.35},{"e":5,"t":34.6},{"e":5,"t":34.85},{"e":5,"t":35.15},{"e":5,"t":35.4},{"e":5,"t":35.65},{"e":5,"t":35.95},{"e":5,"t":36.2},{"e":5,"t":36.45},{"e":5,"t":36.75},{"e":5,"t":37.0},{"e":5,"t":37.25},{"e":5,"t":37.55},{"e":5,"t":37.8},{"e":5,"t":38.05},{"e":5,"t":38.35},{"e":5,"t":38.6},{"e":5,"t":38.85},{"e":5,"t":39.15},{"e":5,"t":39.4},{"e":5,"t":39.65},{"e":5,"t":39.95},{"e":5,"t":40.2},{"e":5,"t":40.45},{"e":5,"t":40.75},{"e":5,"t":41.0},{"e":5,"t":41.25},{"e":5,"t":41.55},{"e":5,"t":41.8},{"e":5,"t":42.05},{"e":5,"t":42.35},{"e":5,"t":42.6},{"e":5,"t":42.85},{"e":5,"t":43.15},{"e":5,"t":43.4},{"e":5,"t":43.65},{"e":5,"t":43.9},{"e":5,"t":44.1},{"e":5,"t":44.45},{"e":5,"t":44.7},{"e":5,"t":44.95},{"e":5,"t":45.25},{"e":5,"t":45.5},{"e":5,"t":45.75},{"e":5,"t":46.05},{"e":5,"t":46.3},{"e":5,"t":47.0},{"e":5,"t":48.0},{"e":5,"t":49.0},{"e":5,"t":49.95}
]
},
"vconcat":[
{"width":1115,"height":86,"data":{"name":"a1"},
 "mark":{"type":"line","strokeWidth":1.5,"interpolate":"monotone","clip":true},
 "encoding":{
  "x":{"field":"t","type":"quantitative","scale":{"domain":[0,50],"nice":false},"axis":{"title":"Time (s)","values":[0,5,10,15,20,25,30,35,40,45,50]}},
  "y":{"field":"y","type":"quantitative","scale":{"domain":[0.3,0.7],"nice":false,"zero":false},"axis":{"title":"Joint angle 1 (rad)","values":[0.3,0.4,0.5,0.6],"labelExpr":"''+datum.value"}},
  "color":{"field":"g","type":"nominal","scale":{"domain":[0,1,2,3,4,5],"range":["#0000ff","#ff0000","#00ff00","#0000ff","#000000","#ff00ff"]},"legend":{"title":null,"orient":"top-right","direction":"horizontal","offset":8,"padding":3,"strokeColor":"black","fillColor":"white","symbolType":"M-3,0H3","symbolSize":100,"symbolStrokeWidth":1.5,"symbolOffset":10,"labelOffset":13,"columnPadding":0,"labelFontSize":10,"labelColor":"black","labelExpr":"'agent'+datum.label"}},
  "strokeDash":{"field":"g","type":"nominal","scale":{"domain":[0,1,2,3,4,5],"range":[[6,4],[1,0],[1,0],[1,0],[1,0],[1,0]]},"legend":{"title":null,"orient":"top-right","direction":"horizontal","offset":8,"padding":3,"strokeColor":"black","fillColor":"white","symbolType":"M-3,0H3","symbolSize":100,"symbolStrokeWidth":1.5,"symbolOffset":10,"labelOffset":13,"columnPadding":0,"labelFontSize":10,"labelColor":"black","labelExpr":"'agent'+datum.label"}}
 }},
{"width":1115,"height":86,"data":{"name":"a2"},
 "mark":{"type":"line","strokeWidth":1.5,"interpolate":"monotone","clip":true},
 "encoding":{
  "x":{"field":"t","type":"quantitative","scale":{"domain":[0,50],"nice":false},"axis":{"title":"Time (s)","values":[0,5,10,15,20,25,30,35,40,45,50]}},
  "y":{"field":"y","type":"quantitative","scale":{"domain":[0.5,1.2],"nice":false,"zero":false},"axis":{"title":"Joint angle 2 (rad)","values":[0.6,0.8,1,1.2],"labelExpr":"''+datum.value"}},
  "color":{"field":"g","type":"nominal","scale":{"domain":[0,1,2,3,4,5],"range":["#0000ff","#ff0000","#00ff00","#0000ff","#000000","#ff00ff"]},"legend":{"title":null,"orient":"top-right","direction":"horizontal","offset":8,"padding":3,"strokeColor":"black","fillColor":"white","symbolType":"M-3,0H3","symbolSize":100,"symbolStrokeWidth":1.5,"symbolOffset":10,"labelOffset":13,"columnPadding":0,"labelFontSize":10,"labelColor":"black","labelExpr":"'agent'+datum.label"}},
  "strokeDash":{"field":"g","type":"nominal","scale":{"domain":[0,1,2,3,4,5],"range":[[6,4],[1,0],[1,0],[1,0],[1,0],[1,0]]},"legend":{"title":null,"orient":"top-right","direction":"horizontal","offset":8,"padding":3,"strokeColor":"black","fillColor":"white","symbolType":"M-3,0H3","symbolSize":100,"symbolStrokeWidth":1.5,"symbolOffset":10,"labelOffset":13,"columnPadding":0,"labelFontSize":10,"labelColor":"black","labelExpr":"'agent'+datum.label"}}
 }},
{"width":1115,"height":86,"data":{"name":"a3"},
 "mark":{"type":"line","strokeWidth":1.5,"clip":true},
 "encoding":{
  "x":{"field":"t","type":"quantitative","scale":{"domain":[0,50],"nice":false},"axis":{"title":"Time (s)","values":[0,5,10,15,20,25,30,35,40,45,50]}},
  "y":{"field":"y","type":"quantitative","scale":{"domain":[-0.3,0.71],"nice":false,"zero":false},"axis":{"title":"Joint velocity 1 (rad/s)","values":[-0.2,0,0.2,0.4,0.6],"labelExpr":"''+datum.value"}},
  "color":{"field":"g","type":"nominal","scale":{"domain":[0,1,2,3,4,5],"range":["#0000ff","#ff0000","#00ff00","#0000ff","#000000","#ff00ff"]},"legend":{"title":null,"orient":"top-right","direction":"horizontal","offset":8,"padding":3,"strokeColor":"black","fillColor":"white","symbolType":"M-3,0H3","symbolSize":100,"symbolStrokeWidth":1.5,"symbolOffset":10,"labelOffset":13,"columnPadding":0,"labelFontSize":10,"labelColor":"black","labelExpr":"'agent'+datum.label"}},
  "strokeDash":{"field":"g","type":"nominal","scale":{"domain":[0,1,2,3,4,5],"range":[[6,4],[1,0],[1,0],[1,0],[1,0],[1,0]]},"legend":{"title":null,"orient":"top-right","direction":"horizontal","offset":8,"padding":3,"strokeColor":"black","fillColor":"white","symbolType":"M-3,0H3","symbolSize":100,"symbolStrokeWidth":1.5,"symbolOffset":10,"labelOffset":13,"columnPadding":0,"labelFontSize":10,"labelColor":"black","labelExpr":"'agent'+datum.label"}}
 }},
{"width":1115,"height":86,"data":{"name":"a4"},
 "mark":{"type":"line","strokeWidth":1.5,"clip":true},
 "encoding":{
  "x":{"field":"t","type":"quantitative","scale":{"domain":[0,50],"nice":false},"axis":{"title":"Time (s)","values":[0,5,10,15,20,25,30,35,40,45,50]}},
  "y":{"field":"y","type":"quantitative","scale":{"domain":[-0.5,1.2],"nice":false,"zero":false},"axis":{"title":"Joint velocity 2 (rad/s)","values":[-0.5,0,0.5,1],"labelExpr":"''+datum.value"}},
  "color":{"field":"g","type":"nominal","scale":{"domain":[0,1,2,3,4,5],"range":["#0000ff","#ff0000","#00ff00","#0000ff","#000000","#ff00ff"]},"legend":{"title":null,"orient":"top-right","direction":"horizontal","offset":8,"padding":3,"strokeColor":"black","fillColor":"white","symbolType":"M-3,0H3","symbolSize":100,"symbolStrokeWidth":1.5,"symbolOffset":10,"labelOffset":13,"columnPadding":0,"labelFontSize":10,"labelColor":"black","labelExpr":"'agent'+datum.label"}},
  "strokeDash":{"field":"g","type":"nominal","scale":{"domain":[0,1,2,3,4,5],"range":[[6,4],[1,0],[1,0],[1,0],[1,0],[1,0]]},"legend":{"title":null,"orient":"top-right","direction":"horizontal","offset":8,"padding":3,"strokeColor":"black","fillColor":"white","symbolType":"M-3,0H3","symbolSize":100,"symbolStrokeWidth":1.5,"symbolOffset":10,"labelOffset":13,"columnPadding":0,"labelFontSize":10,"labelColor":"black","labelExpr":"'agent'+datum.label"}}
 }},
{"width":1115,"height":104,"data":{"name":"ev"},
 "mark":{"type":"point","shape":"M-1,0H1M0,-1V1M-0.7,-0.7L0.7,0.7M-0.7,0.7L0.7,-0.7","filled":false,"size":42,"strokeWidth":1.3,"opacity":1,"clip":true},
 "encoding":{
  "x":{"field":"t","type":"quantitative","scale":{"domain":[0,50],"nice":false},"axis":{"title":"Time (second)","values":[0,5,10,15,20,25,30,35,40,45,50]}},
  "y":{"field":"e","type":"quantitative","scale":{"domain":[0,6],"nice":false},"axis":{"title":"Events","values":[0,2,4,6]}},
  "color":{"field":"e","type":"nominal","scale":{"domain":[1,2,3,4,5],"range":["#ff0000","#00ff00","#0000ff","#000000","#ff00ff"]},"legend":{"title":null,"orient":"top-right","direction":"vertical","offset":5,"padding":2,"strokeColor":"black","fillColor":"white","symbolType":"M-1,0H1M0,-1V1M-0.7,-0.7L0.7,0.7M-0.7,0.7L0.7,-0.7","symbolSize":36,"symbolStrokeWidth":1.2,"symbolFillColor":"transparent","symbolOffset":16,"labelOffset":12,"rowPadding":0.6,"labelFontSize":10,"labelColor":"black","labelExpr":"'agent'+datum.label","encode":{"symbols":{"update":{"shape":{"value":"M-1,0H1M0,-1V1M-0.7,-0.7L0.7,0.7M-0.7,0.7L0.7,-0.7"},"fill":{"value":"transparent"},"strokeWidth":{"value":1.2}}}}}}
 }}
]
}
